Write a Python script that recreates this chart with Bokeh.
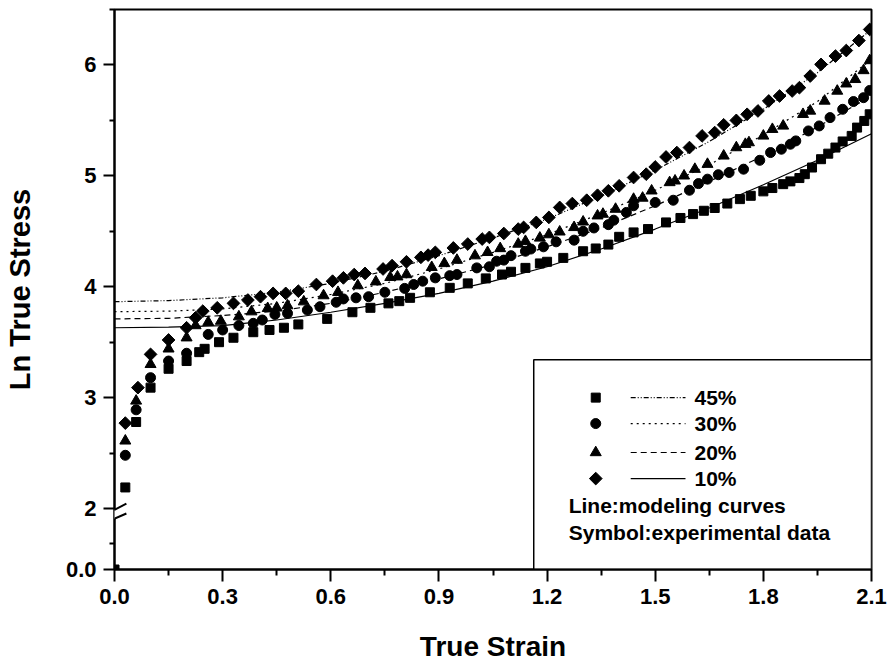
import math

from bokeh.plotting import figure
from bokeh.models import (FixedTicker, CustomJSTickFormatter, PolyAnnotation, Label)
from bokeh.embed import file_html
from bokeh.resources import INLINE

# ---- experimental data (true strain, ln true stress) ----
sq_x = [0.0, 0.03, 0.06, 0.10, 0.15, 0.20, 0.235, 0.25, 0.29, 0.33, 0.385, 0.43, 0.47, 0.51,
        0.59, 0.66, 0.71, 0.76, 0.79, 0.82, 0.875, 0.93, 0.98, 1.03, 1.075, 1.10, 1.14, 1.18,
        1.20, 1.245, 1.30, 1.335, 1.37, 1.40, 1.44, 1.48, 1.53, 1.57, 1.605, 1.635, 1.665,
        1.70, 1.735, 1.765, 1.80, 1.825, 1.855, 1.875, 1.90, 1.915, 1.935, 1.96, 1.98, 2.00,
        2.02, 2.045, 2.06, 2.08, 2.095]
sq_y = [0.0, 2.19, 2.78, 3.09, 3.26, 3.33, 3.41, 3.44, 3.50, 3.54, 3.59, 3.61, 3.63, 3.66,
        3.71, 3.77, 3.81, 3.85, 3.87, 3.90, 3.95, 3.99, 4.03, 4.075, 4.11, 4.135, 4.17, 4.21,
        4.225, 4.26, 4.32, 4.345, 4.38, 4.45, 4.49, 4.52, 4.58, 4.62, 4.655, 4.685, 4.71,
        4.75, 4.79, 4.82, 4.86, 4.89, 4.925, 4.95, 4.98, 5.015, 5.075, 5.15, 5.20, 5.255,
        5.31, 5.36, 5.435, 5.495, 5.555]

ci_x = [0.03, 0.06, 0.10, 0.15, 0.20, 0.26, 0.30, 0.345, 0.385, 0.41, 0.445, 0.48, 0.535,
        0.57, 0.615, 0.635, 0.67, 0.705, 0.75, 0.805, 0.83, 0.855, 0.89, 0.93, 0.95, 1.005,
        1.04, 1.06, 1.08, 1.10, 1.14, 1.155, 1.19, 1.225, 1.275, 1.30, 1.33, 1.37, 1.385,
        1.42, 1.44, 1.50, 1.55, 1.595, 1.62, 1.645, 1.675, 1.705, 1.745, 1.79, 1.82, 1.85,
        1.875, 1.89, 1.925, 1.955, 1.985, 2.02, 2.05, 2.078, 2.095]
ci_y = [2.48, 2.89, 3.18, 3.33, 3.40, 3.57, 3.61, 3.65, 3.67, 3.70, 3.75, 3.76, 3.79,
        3.82, 3.86, 3.89, 3.90, 3.91, 3.95, 3.985, 4.02, 4.05, 4.08, 4.10, 4.11, 4.17,
        4.18, 4.23, 4.24, 4.28, 4.32, 4.34, 4.36, 4.405, 4.42, 4.50, 4.53, 4.56, 4.60,
        4.67, 4.73, 4.76, 4.78, 4.87, 4.93, 4.97, 5.01, 5.03, 5.06, 5.14, 5.21, 5.24,
        5.285, 5.315, 5.405, 5.45, 5.525, 5.60, 5.67, 5.705, 5.77]

tr_x = [0.03, 0.06, 0.10, 0.15, 0.20, 0.225, 0.26, 0.295, 0.345, 0.38, 0.425, 0.45, 0.48,
        0.525, 0.58, 0.62, 0.675, 0.725, 0.765, 0.785, 0.81, 0.88, 0.915, 0.95, 1.00, 1.035,
        1.07, 1.12, 1.14, 1.18, 1.205, 1.235, 1.275, 1.30, 1.34, 1.355, 1.39, 1.44, 1.465,
        1.49, 1.54, 1.555, 1.58, 1.61, 1.645, 1.69, 1.725, 1.75, 1.76, 1.80, 1.825, 1.855,
        1.91, 1.93, 1.97, 2.005, 2.03, 2.055, 2.078, 2.095]
tr_y = [2.61, 2.97, 3.30, 3.44, 3.54, 3.65, 3.68, 3.69, 3.73, 3.775, 3.805, 3.81, 3.83,
        3.865, 3.92, 3.95, 4.01, 4.045, 4.085, 4.09, 4.11, 4.175, 4.21, 4.24, 4.28, 4.31,
        4.345, 4.385, 4.41, 4.44, 4.47, 4.495, 4.535, 4.585, 4.64, 4.655, 4.70, 4.79, 4.80,
        4.865, 4.94, 4.955, 5.00, 5.06, 5.105, 5.18, 5.255, 5.285, 5.30, 5.36, 5.42, 5.45,
        5.555, 5.585, 5.675, 5.765, 5.83, 5.87, 5.95, 6.04]

di_x = [0.03, 0.065, 0.10, 0.15, 0.20, 0.225, 0.245, 0.285, 0.33, 0.37, 0.405, 0.44, 0.475,
        0.51, 0.56, 0.605, 0.635, 0.665, 0.695, 0.745, 0.77, 0.81, 0.85, 0.87, 0.89, 0.94,
        0.98, 1.02, 1.04, 1.08, 1.12, 1.135, 1.17, 1.205, 1.235, 1.27, 1.31, 1.34, 1.37,
        1.40, 1.44, 1.475, 1.50, 1.53, 1.56, 1.595, 1.63, 1.665, 1.69, 1.725, 1.755, 1.785,
        1.815, 1.845, 1.88, 1.90, 1.93, 1.96, 2.00, 2.03, 2.065, 2.095]
di_y = [2.77, 3.09, 3.39, 3.52, 3.63, 3.72, 3.78, 3.81, 3.85, 3.88, 3.91, 3.94, 3.94,
        3.96, 4.02, 4.05, 4.08, 4.11, 4.12, 4.16, 4.19, 4.225, 4.265, 4.285, 4.31, 4.35,
        4.385, 4.43, 4.445, 4.48, 4.52, 4.535, 4.58, 4.625, 4.715, 4.75, 4.78, 4.825, 4.865,
        4.91, 4.985, 5.015, 5.08, 5.17, 5.21, 5.255, 5.36, 5.39, 5.46, 5.50, 5.555, 5.585,
        5.675, 5.72, 5.765, 5.795, 5.90, 6.005, 6.08, 6.13, 6.22, 6.32]

# ---- modeling curves ----
model_x = [0.0, 0.15, 0.3, 0.45, 0.6, 0.75, 0.9, 1.05, 1.2, 1.35, 1.5, 1.65, 1.8, 1.95, 2.1]
model_dashdot = [3.865, 3.875, 3.90, 3.95, 4.03, 4.14, 4.28, 4.44, 4.61, 4.82, 5.05, 5.31, 5.60, 5.93, 6.32]
model_dot = [3.775, 3.78, 3.80, 3.85, 3.93, 4.03, 4.16, 4.31, 4.47, 4.66, 4.87, 5.10, 5.37, 5.67, 6.05]
model_dash = [3.71, 3.715, 3.74, 3.78, 3.85, 3.95, 4.07, 4.20, 4.36, 4.53, 4.73, 4.95, 5.18, 5.44, 5.72]
model_solid = [3.63, 3.635, 3.65, 3.70, 3.77, 3.85, 3.94, 4.05, 4.18, 4.34, 4.52, 4.71, 4.92, 5.14, 5.38]

x_ticks = [0.0, 0.3, 0.6, 0.9, 1.2, 1.5, 1.8, 2.1]
legend_labels = ["45%", "30%", "20%", "10%"]
legend_notes = ["Line:modeling curves", "Symbol:experimental data"]

# broken y axis: values >= 2 are drawn as-is, the 0..2 gap is squeezed
AXIS_FLOOR = 1.45
LOW_SCALE = 0.94


def to_axis(vals):
    return [v if v >= 2 else AXIS_FLOOR + v * LOW_SCALE for v in vals]


FONT = "Liberation Sans"
DIAMOND = dict(marker="square", size=9, angle=math.pi / 4)

p = figure(width=891, height=668, x_range=(0, 2.1), y_range=(AXIS_FLOOR, 6.5),
           output_backend="svg", toolbar_location=None,
           min_border_left=113, min_border_right=20, min_border_top=9, min_border_bottom=99)
p.xgrid.visible = False
p.ygrid.visible = False
p.outline_line_color = "black"
p.outline_line_width = 2
p.background_fill_color = "white"
p.border_fill_color = "white"

p.xaxis.ticker = FixedTicker(ticks=x_ticks,
                             minor_ticks=[0.15, 0.45, 0.75, 1.05, 1.35, 1.65, 1.95])
p.xaxis.formatter = CustomJSTickFormatter(code="return tick.toFixed(1);")
p.yaxis.ticker = FixedTicker(ticks=[AXIS_FLOOR, 2, 3, 4, 5, 6],
                             minor_ticks=[AXIS_FLOOR + 0.25 * LOW_SCALE, 2.5, 3.5, 4.5, 5.5, 6.5])
p.yaxis.formatter = CustomJSTickFormatter(code="return tick < 2 ? '0.0' : tick.toFixed(0);")

for ax, tick_len in ((p.xaxis[0], 12), (p.yaxis[0], 11)):
    ax.axis_line_width = 2
    ax.axis_line_color = "black"
    ax.major_tick_line_width = 2
    ax.minor_tick_line_width = 2
    ax.major_tick_in = 0
    ax.major_tick_out = tick_len
    ax.minor_tick_in = 0
    ax.minor_tick_out = tick_len // 2
    ax.major_label_text_font = FONT
    ax.major_label_text_font_style = "bold"
    ax.major_label_text_font_size = "22px"
    ax.major_label_text_color = "black"
    ax.major_label_standoff = 7
    ax.axis_label_text_font = FONT
    ax.axis_label_text_font_style = "bold"
    ax.axis_label_text_color = "black"

p.xaxis.axis_label = "True Strain"
p.xaxis.axis_label_text_font_size = "28px"
p.xaxis.axis_label_standoff = 24
p.yaxis.axis_label = "Ln True Stress"
p.yaxis.axis_label_text_font_size = "29px"
p.yaxis.axis_label_standoff = 27

# modeling curves
p.line(model_x, to_axis(model_dashdot), line_color="black", line_width=1.2, line_dash="5 2 1 2 1 2")
p.line(model_x, to_axis(model_dot), line_color="black", line_width=1.2, line_dash="2 4")
p.line(model_x, to_axis(model_dash), line_color="black", line_width=1.2, line_dash="6 4")
p.line(model_x, to_axis(model_solid), line_color="black", line_width=1.2)

# experimental points
p.scatter(sq_x, to_axis(sq_y), marker="square", size=9, color="black")
p.scatter(ci_x, to_axis(ci_y), marker="circle", size=10, color="black")
p.scatter(tr_x, to_axis(tr_y), marker="triangle", size=11, color="black")
p.scatter(di_x, to_axis(di_y), color="black", **DIAMOND)

# legend box
box_left, box_top = 1.163, 3.342
p.quad(left=[box_left], right=[2.1], top=[box_top], bottom=[AXIS_FLOOR],
       fill_color="white", line_color="black", line_width=1.5)

row_y = [3.0, 2.766, 2.505, 2.27]
sym_x = 1.335
line_x0, line_x1 = 1.432, 1.584
text_x = 1.609
markers = [dict(marker="square", size=9), dict(marker="circle", size=10),
           dict(marker="triangle", size=11), DIAMOND]
dashes = ["5 2 1 2 1 2", "2 4", "6 4", "solid"]
for mk, dash, label, yy in zip(markers, dashes, legend_labels, row_y):
    p.scatter([sym_x], [yy], color="black", **mk)
    p.line([line_x0, line_x1], [yy, yy], line_color="black", line_width=1.2, line_dash=dash)
    p.add_layout(Label(x=text_x, y=yy, text=label, text_baseline="middle",
                       text_font=FONT, text_font_style="bold", text_font_size="21px",
                       text_color="black"))
for note, yy in zip(legend_notes, [2.027, 1.784]):
    p.add_layout(Label(x=1.26, y=yy, text=note, text_baseline="middle",
                       text_font=FONT, text_font_style="bold", text_font_size="21px",
                       text_color="black"))

# axis break marks
p.add_layout(PolyAnnotation(xs=[-0.03, 0.033, 0.033, -0.03], ys=[1.937, 2.045, 1.955, 1.865],
                            fill_color="white", fill_alpha=1.0, line_alpha=0))
for ys in ([1.937, 2.045], [1.865, 1.955]):
    p.add_layout(PolyAnnotation(xs=[-0.03, 0.033], ys=ys, fill_alpha=0,
                                line_color="black", line_alpha=1.0, line_width=2))

open("out.html", "w").write(file_html(p, INLINE))
